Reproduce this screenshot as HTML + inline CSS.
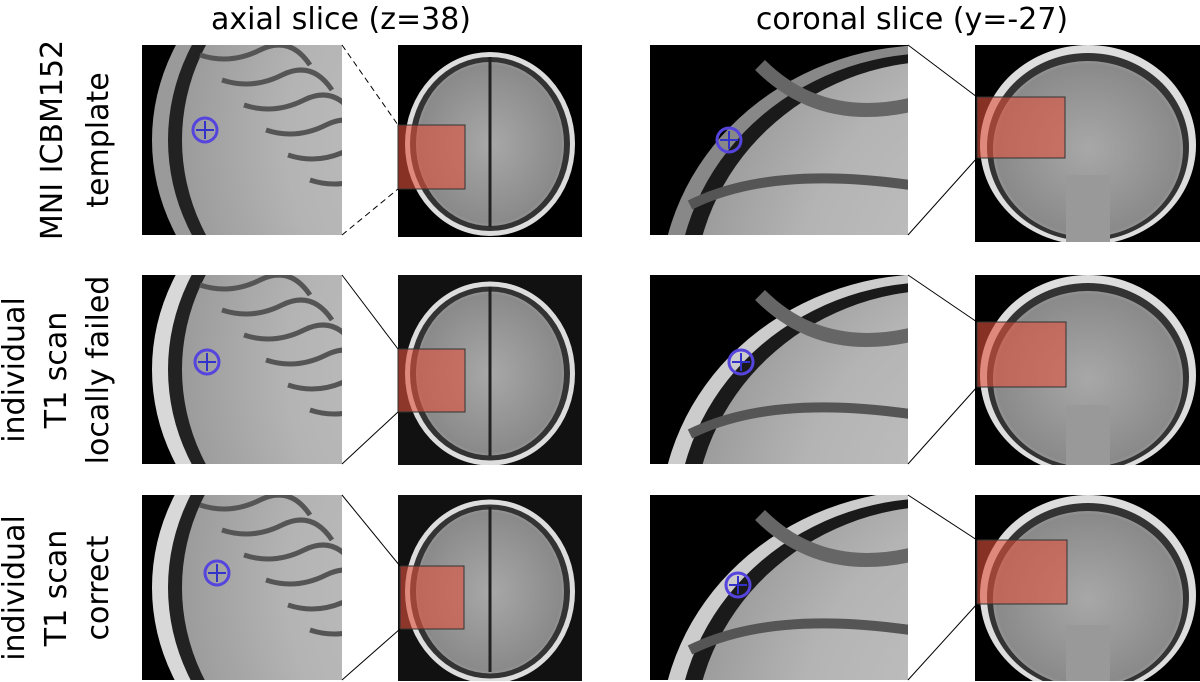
<!DOCTYPE html>
<html><head><meta charset="utf-8"><style>
html,body{margin:0;padding:0;background:#fff;width:1200px;height:682px;overflow:hidden;font-family:"DejaVu Sans","Liberation Sans",sans-serif}
svg{display:block}
</style></head><body>
<svg width="1200" height="682" viewBox="0 0 1200 682" xmlns="http://www.w3.org/2000/svg">
<defs>
<radialGradient id="zg" cx="0.75" cy="0.5" r="0.9"><stop offset="0" stop-color="#c8c8c8"/><stop offset="0.6" stop-color="#b4b4b4"/><stop offset="1" stop-color="#8a8a8a"/></radialGradient>
<radialGradient id="brain" cx="0.5" cy="0.5" r="0.6"><stop offset="0" stop-color="#a8a8a8"/><stop offset="0.8" stop-color="#8a8a8a"/><stop offset="1" stop-color="#c8c8c8"/></radialGradient>
<clipPath id="c1"><rect x="142" y="45" width="200" height="190"/></clipPath>
<clipPath id="c2"><rect x="142" y="275" width="200" height="189"/></clipPath>
<clipPath id="c3"><rect x="142" y="495" width="200" height="185"/></clipPath>
<clipPath id="d1"><rect x="650" y="45" width="258" height="191"/></clipPath>
<clipPath id="d2"><rect x="650" y="275" width="258" height="189"/></clipPath>
<clipPath id="d3"><rect x="650" y="495" width="258" height="185"/></clipPath>
<clipPath id="a1"><rect x="398" y="45" width="184" height="192"/></clipPath>
<clipPath id="a2"><rect x="398" y="275" width="184" height="190"/></clipPath>
<clipPath id="a3"><rect x="398" y="495" width="184" height="186"/></clipPath>
<clipPath id="f1"><rect x="975" y="45" width="225" height="197"/></clipPath>
<clipPath id="f2"><rect x="975" y="275" width="225" height="190"/></clipPath>
<clipPath id="f3"><rect x="975" y="495" width="225" height="186"/></clipPath>
<pattern id="pat" patternUnits="userSpaceOnUse" x="0" y="0" width="1200" height="682"></pattern>
</defs>
<g font-size="30" fill="#000" font-family="DejaVu Sans, Liberation Sans, sans-serif">
<text x="341" y="29" text-anchor="middle">axial slice (z=38)</text>
<text x="912" y="29" text-anchor="middle">coronal slice (y=-27)</text>
</g>
<g font-size="30" text-anchor="middle" font-family="DejaVu Sans, Liberation Sans, sans-serif">
<text transform="translate(62,140) rotate(-90)">MNI ICBM152</text>
<text transform="translate(108,140) rotate(-90)">template</text>
<text transform="translate(24,370) rotate(-90)">individual</text>
<text transform="translate(66,370) rotate(-90)">T1 scan</text>
<text transform="translate(108,370) rotate(-90)">locally failed</text>
<text transform="translate(24,588) rotate(-90)">individual</text>
<text transform="translate(66,588) rotate(-90)">T1 scan</text>
<text transform="translate(108,588) rotate(-90)">correct</text>
</g>
<script>
const rowsY=[[45,190],[275,189],[495,185]];
const redAx=[[398,125,67,64],[398,349,67,63],[400,566,64,63]];
const redCo=[[977,97,88,61],[977,322,89,65],[977,540,90,64]];
const crossA=[[205,130],[207,362],[217,573]];
const crossC=[[729,140],[741,362],[738,585]];
const NS="http://www.w3.org/2000/svg";
const svg=document.querySelector('svg');
const pat=document.getElementById('pat');
function mk(t,a,p){const e=document.createElementNS(NS,t);for(const k in a)e.setAttribute(k,a[k]);(p||svg).appendChild(e);return e;}
function panel(name,x,y,w,h){const r=mk('rect',{x:x,y:y,width:w,height:h,fill:'url(#pat)'});}
rowsY.forEach((r,i)=>{
 const [y,h]=r;
 let g=mk('g',{'clip-path':'url(#c'+(i+1)+')'},pat);
 mk('rect',{x:142,y:y,width:200,height:h,fill:'#000'},g);
 mk('ellipse',{cx:420,cy:y+h/2,rx:268,ry:230,fill:i?'#d8d8d8':'#9a9a9a'},g);
 mk('ellipse',{cx:426,cy:y+h/2,rx:258,ry:226,fill:'#222'},g);
 mk('ellipse',{cx:432,cy:y+h/2,rx:250,ry:222,fill:'url(#zg)'},g);
 for(let k=0;k<6;k++) mk('path',{d:`M${200+k*22} ${y+10+k*25} q30 10 60 -5 t50 15`,stroke:'#555',fill:'none','stroke-width':5},g);
 panel('axial-zoom-'+(i+1),142,y,200,h);
 g=mk('g',{'clip-path':'url(#a'+(i+1)+')'},pat);
 mk('rect',{x:398,y:y,width:184,height:h+2,fill:i?'#111':'#000'},g);
 mk('ellipse',{cx:490,cy:y+h/2+4,rx:85,ry:92,fill:'#ddd'},g);
 mk('ellipse',{cx:490,cy:y+h/2+4,rx:80,ry:87,fill:'#333'},g);
 mk('ellipse',{cx:490,cy:y+h/2+4,rx:74,ry:82,fill:'url(#brain)'},g);
 mk('line',{x1:490,y1:y+12,x2:490,y2:y+h-8,stroke:'#222','stroke-width':3},g);
 panel('axial-full-'+(i+1),398,y,184,Math.min(h+2,682-y));
 const ra=redAx[i];
 const rr=mk('rect',{x:ra[0],y:ra[1],width:ra[2],height:ra[3],fill:'rgba(225,80,60,0.6)',stroke:'#333','stroke-width':1});
 
 
 const dash=i==0?'6,4':'none';
 mk('line',{x1:342,y1:y,x2:ra[0],y2:ra[1],stroke:'#000','stroke-width':1,'stroke-dasharray':dash});
 mk('line',{x1:342,y1:y+h,x2:ra[0],y2:ra[1]+ra[3],stroke:'#000','stroke-width':1,'stroke-dasharray':dash});
 g=mk('g',{'clip-path':'url(#d'+(i+1)+')'},pat);
 mk('rect',{x:650,y:y,width:258,height:h,fill:'#000'},g);
 mk('ellipse',{cx:930,cy:y+h+60,rx:270,ry:250,fill:i?'#ccc':'#888'},g);
 mk('ellipse',{cx:935,cy:y+h+60,rx:258,ry:242,fill:'#1a1a1a'},g);
 mk('ellipse',{cx:942,cy:y+h+62,rx:248,ry:236,fill:'url(#zg)'},g);
 mk('path',{d:`M760 ${y+20} q60 60 150 40`,stroke:'#666',fill:'none','stroke-width':14},g);
 mk('path',{d:`M690 ${y+h-30} q80 -40 220 -20`,stroke:'#555',fill:'none','stroke-width':10},g);
 panel('coronal-zoom-'+(i+1),650,y,258,h);
 g=mk('g',{'clip-path':'url(#f'+(i+1)+')'},pat);
 mk('rect',{x:975,y:y,width:225,height:200,fill:'#000'},g);
 mk('ellipse',{cx:1088,cy:y+100,rx:108,ry:100,fill:'#ddd'},g);
 mk('ellipse',{cx:1088,cy:y+102,rx:101,ry:94,fill:'#333'},g);
 mk('ellipse',{cx:1088,cy:y+104,rx:95,ry:88,fill:'url(#brain)'},g);
 mk('rect',{x:1066,y:y+130,width:44,height:70,fill:'#999'},g);
 panel('coronal-full-'+(i+1),975,y,225,i==0?197:Math.min(h+1,682-y));
 const rc=redCo[i];
 const r2=mk('rect',{x:rc[0],y:rc[1],width:rc[2],height:rc[3],fill:'rgba(225,80,60,0.6)',stroke:'#333','stroke-width':1});
 
 
 mk('line',{x1:908,y1:y,x2:rc[0],y2:rc[1],stroke:'#000','stroke-width':1});
 mk('line',{x1:908,y1:y+h,x2:rc[0],y2:rc[1]+rc[3],stroke:'#000','stroke-width':1});
 [crossA[i],crossC[i]].forEach((c,j)=>{
  const cg=mk('g',{});
  
  
  mk('circle',{cx:c[0],cy:c[1],r:12,fill:'none',stroke:'#5544dd','stroke-width':3},cg);
  mk('line',{x1:c[0]-9,y1:c[1],x2:c[0]+9,y2:c[1],stroke:'#3333cc','stroke-width':2},cg);
  mk('line',{x1:c[0],y1:c[1]-9,x2:c[0],y2:c[1]+9,stroke:'#3333cc','stroke-width':2},cg);
 });
});
</script>
</svg>
</body></html>
